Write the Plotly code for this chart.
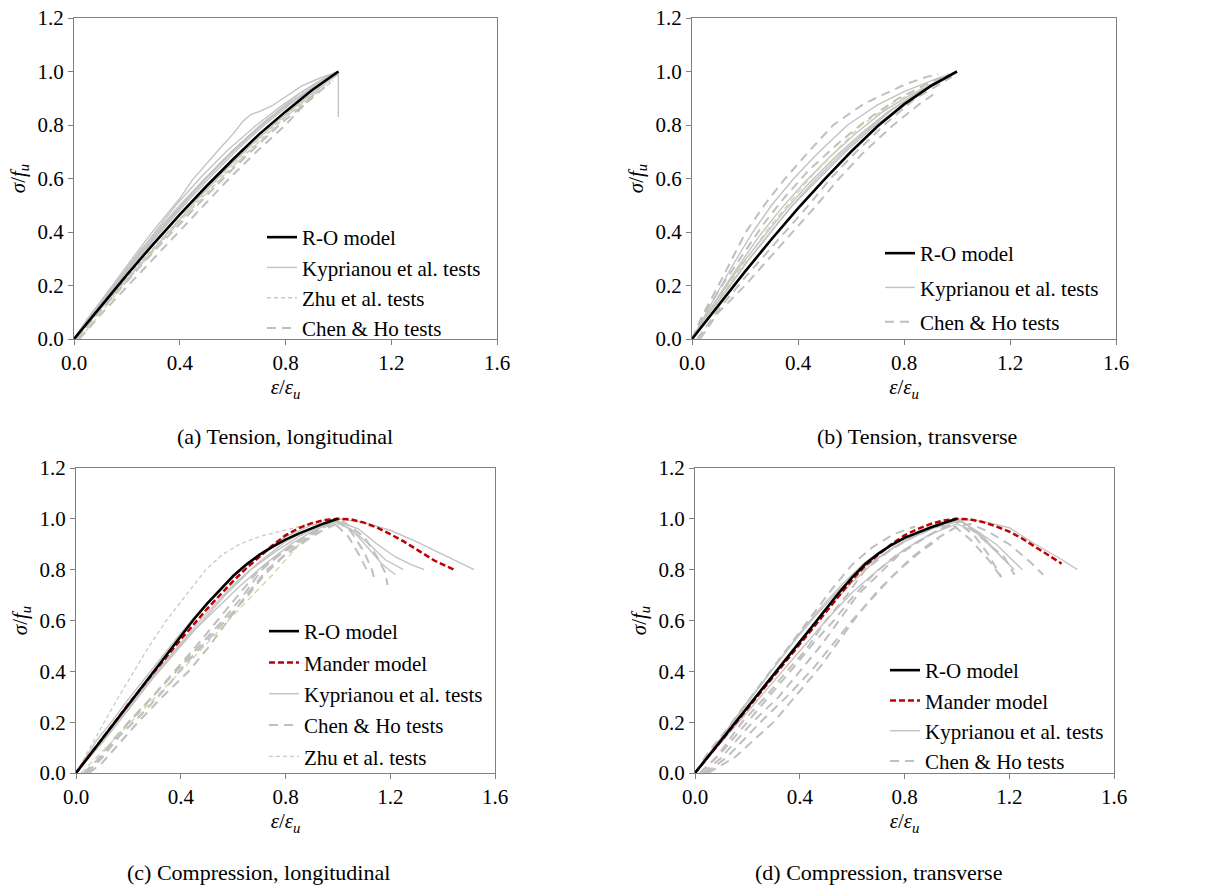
import plotly.graph_objects as go

# ---------------------------------------------------------------------------
# Normalised stress-strain curves: strain ratio (eps/eps_u) vs stress ratio (sigma/f_u)
# Each test curve is a pair (strain list, stress list).
# ---------------------------------------------------------------------------

# (a) Tension, longitudinal
ro_a_x = [0, 0.1, 0.2, 0.3, 0.4, 0.5, 0.6, 0.7, 0.8, 0.9, 1.0]
ro_a_y = [0, 0.12, 0.24, 0.355, 0.465, 0.57, 0.67, 0.765, 0.85, 0.93, 1.0]
kyp_a = [
    ([0, 0.05, 0.1, 0.144, 0.2, 0.25, 0.3, 0.36, 0.4, 0.448, 0.5, 0.55, 0.6, 0.64, 0.67, 0.7, 0.75, 0.81, 0.86, 0.917, 0.96, 1.0],
     [0, 0.075, 0.14, 0.2, 0.275, 0.34, 0.405, 0.475, 0.525, 0.595, 0.655, 0.71, 0.765, 0.815, 0.84, 0.85, 0.872, 0.912, 0.945, 0.97, 0.985, 1.0]),
    ([0, 0.05, 0.1, 0.15, 0.2, 0.25, 0.32, 0.4, 0.5, 0.6, 0.7, 0.78, 0.85, 0.92, 1.0, 1.0],
     [0, 0.07, 0.135, 0.2, 0.265, 0.33, 0.41, 0.5, 0.605, 0.705, 0.795, 0.86, 0.915, 0.96, 1.0, 0.83]),
    ([0, 0.06, 0.12, 0.18, 0.25, 0.34, 0.43, 0.52, 0.62, 0.72, 0.82, 0.9, 0.96, 1.0],
     [0, 0.08, 0.155, 0.23, 0.31, 0.415, 0.515, 0.61, 0.71, 0.8, 0.88, 0.935, 0.975, 1.0]),
    ([0, 0.05, 0.1, 0.17, 0.24, 0.31, 0.39, 0.48, 0.58, 0.69, 0.79, 0.87, 0.94, 1.0],
     [0, 0.065, 0.135, 0.22, 0.31, 0.405, 0.505, 0.605, 0.705, 0.8, 0.875, 0.93, 0.97, 1.0]),
    ([0, 0.08, 0.17, 0.27, 0.37, 0.47, 0.57, 0.67, 0.77, 0.87, 0.95, 1.0],
     [0, 0.09, 0.19, 0.3, 0.415, 0.525, 0.63, 0.725, 0.815, 0.895, 0.955, 0.99]),
    ([0, 0.1, 0.2, 0.3, 0.4, 0.5, 0.6, 0.7, 0.8, 0.9, 1.0],
     [0, 0.13, 0.255, 0.375, 0.49, 0.6, 0.7, 0.79, 0.87, 0.94, 0.995]),
    ([0, 0.07, 0.14, 0.22, 0.3, 0.38, 0.46, 0.55, 0.64, 0.73, 0.82, 0.9, 0.97],
     [0, 0.095, 0.18, 0.28, 0.38, 0.47, 0.56, 0.655, 0.74, 0.82, 0.885, 0.94, 0.98]),
]
zhu_a = [
    ([0, 0.1, 0.2, 0.3, 0.4, 0.5, 0.6, 0.7, 0.8, 0.9, 0.97],
     [0, 0.115, 0.23, 0.34, 0.45, 0.555, 0.655, 0.75, 0.835, 0.915, 0.97]),
    ([0.01, 0.1, 0.2, 0.3, 0.4, 0.5, 0.6, 0.7, 0.8, 0.9, 0.98],
     [0, 0.11, 0.22, 0.33, 0.44, 0.545, 0.645, 0.74, 0.83, 0.905, 0.965]),
]
chen_a = [
    ([0.02, 0.1, 0.2, 0.3, 0.395, 0.49, 0.587, 0.69, 0.8, 0.87, 0.93],
     [0, 0.09, 0.195, 0.3, 0.4, 0.5, 0.6, 0.7, 0.8, 0.875, 0.94]),
    ([0.01, 0.1, 0.2, 0.3, 0.4, 0.5, 0.6, 0.7, 0.8, 0.9, 0.97],
     [0, 0.105, 0.215, 0.325, 0.43, 0.535, 0.635, 0.73, 0.82, 0.9, 0.96]),
]
green_a = [([0.02, 0.2, 0.4, 0.6, 0.8, 0.95], [0, 0.215, 0.44, 0.645, 0.83, 0.95])]

# (b) Tension, transverse
ro_b_x = [0, 0.1, 0.2, 0.3, 0.4, 0.5, 0.6, 0.7, 0.8, 0.9, 1.0]
ro_b_y = [0, 0.127, 0.252, 0.373, 0.488, 0.597, 0.7, 0.795, 0.877, 0.945, 1.0]
kyp_b = [
    ([0, 0.05, 0.1, 0.15, 0.23, 0.3, 0.384, 0.47, 0.587, 0.7, 0.8, 0.875, 0.94, 0.98],
     [0, 0.09, 0.18, 0.27, 0.4, 0.5, 0.6, 0.69, 0.8, 0.875, 0.925, 0.955, 0.98, 0.99]),
    ([0, 0.05, 0.1, 0.16, 0.25, 0.33, 0.42, 0.52, 0.62, 0.72, 0.82, 0.9, 0.97],
     [0, 0.08, 0.16, 0.25, 0.38, 0.48, 0.58, 0.68, 0.77, 0.85, 0.91, 0.95, 0.985]),
    ([0, 0.06, 0.12, 0.2, 0.28, 0.37, 0.46, 0.56, 0.66, 0.76, 0.86, 0.94, 1.0],
     [0, 0.09, 0.17, 0.28, 0.38, 0.49, 0.59, 0.69, 0.78, 0.86, 0.925, 0.97, 1.0]),
    ([0, 0.05, 0.11, 0.18, 0.26, 0.35, 0.44, 0.54, 0.64, 0.74, 0.84, 0.92, 0.98],
     [0, 0.085, 0.17, 0.27, 0.37, 0.48, 0.58, 0.68, 0.77, 0.85, 0.915, 0.96, 0.99]),
    ([0, 0.06, 0.13, 0.21, 0.29, 0.38, 0.48, 0.58, 0.68, 0.78, 0.88, 0.96],
     [0, 0.09, 0.18, 0.29, 0.39, 0.5, 0.6, 0.7, 0.79, 0.86, 0.93, 0.975]),
]
chen_b = [
    ([0, 0.04, 0.1, 0.15, 0.203, 0.28, 0.352, 0.44, 0.533, 0.65, 0.8, 0.885, 0.93],
     [0, 0.09, 0.2, 0.3, 0.4, 0.51, 0.6, 0.7, 0.8, 0.88, 0.95, 0.98, 0.99]),
    ([0.02, 0.1, 0.2, 0.28, 0.352, 0.44, 0.523, 0.62, 0.725, 0.843, 0.93, 0.98],
     [0, 0.11, 0.23, 0.32, 0.4, 0.5, 0.6, 0.7, 0.8, 0.9, 0.95, 0.98]),
    ([0.03, 0.1, 0.2, 0.29, 0.379, 0.47, 0.555, 0.65, 0.76, 0.86, 0.92],
     [0, 0.1, 0.2, 0.3, 0.4, 0.5, 0.6, 0.7, 0.8, 0.88, 0.92]),
    ([0, 0.05, 0.12, 0.2, 0.27, 0.35, 0.44, 0.55, 0.66, 0.78, 0.9, 0.97],
     [0, 0.1, 0.21, 0.33, 0.43, 0.53, 0.63, 0.73, 0.82, 0.9, 0.96, 0.99]),
]
green_b = [([0, 0.1, 0.2, 0.277, 0.36, 0.443, 0.54, 0.64, 0.77, 0.896, 0.97],
            [0, 0.15, 0.29, 0.4, 0.5, 0.6, 0.7, 0.8, 0.89, 0.95, 0.98])]

# (c) Compression, longitudinal
ro_c_x = [0, 0.1, 0.2, 0.3, 0.4, 0.45, 0.5, 0.55, 0.6, 0.65, 0.7, 0.75, 0.8, 0.85, 0.9, 0.95, 1.0]
ro_c_y = [0, 0.135, 0.27, 0.405, 0.54, 0.605, 0.665, 0.722, 0.775, 0.82, 0.858, 0.89, 0.918, 0.942, 0.963, 0.983, 1.0]
mander_c_x = [0, 0.1, 0.2, 0.3, 0.4, 0.5, 0.6, 0.65, 0.7, 0.75, 0.8, 0.85, 0.9, 0.95, 1.0,
              1.05, 1.1, 1.15, 1.2, 1.25, 1.3, 1.37, 1.45]
mander_c_y = [0, 0.135, 0.27, 0.4, 0.525, 0.645, 0.755, 0.805, 0.85, 0.895, 0.935, 0.963, 0.983, 0.995, 1.0,
              0.998, 0.985, 0.965, 0.94, 0.912, 0.88, 0.835, 0.797]
kyp_c = [
    ([0, 0.1, 0.2, 0.3, 0.4, 0.5, 0.6, 0.7, 0.8, 0.9, 1.0, 1.1, 1.2, 1.3, 1.4, 1.52],
     [0, 0.13, 0.26, 0.39, 0.51, 0.63, 0.74, 0.83, 0.91, 0.965, 1.0, 0.985, 0.955, 0.91, 0.86, 0.80]),
    ([0, 0.1, 0.2, 0.31, 0.42, 0.52, 0.62, 0.72, 0.82, 0.92, 1.0, 1.08, 1.15, 1.22, 1.28, 1.33],
     [0, 0.12, 0.25, 0.4, 0.53, 0.63, 0.73, 0.82, 0.9, 0.96, 0.99, 0.96, 0.9, 0.85, 0.82, 0.8]),
    ([0, 0.08, 0.135, 0.2, 0.3, 0.4, 0.5, 0.6, 0.7, 0.8, 0.9, 0.98, 1.05, 1.12, 1.18, 1.25],
     [0, 0.13, 0.2, 0.29, 0.42, 0.55, 0.67, 0.77, 0.86, 0.93, 0.975, 0.99, 0.96, 0.9, 0.84, 0.8]),
    ([0, 0.1, 0.2, 0.3, 0.4, 0.485, 0.57, 0.668, 0.76, 0.85, 0.93, 1.0, 1.06, 1.12, 1.17, 1.22],
     [0, 0.12, 0.25, 0.38, 0.5, 0.6, 0.7, 0.8, 0.87, 0.93, 0.97, 0.99, 0.95, 0.88, 0.82, 0.78]),
]
chen_c = [
    ([0.04, 0.08, 0.14, 0.2, 0.3, 0.377, 0.46, 0.54, 0.62, 0.7, 0.78, 0.84, 0.9, 0.98, 1.04, 1.08, 1.11],
     [0, 0.04, 0.12, 0.2, 0.31, 0.4, 0.5, 0.6, 0.7, 0.8, 0.86, 0.9, 0.94, 0.99, 0.93, 0.86, 0.8]),
    ([0.05, 0.1, 0.16, 0.237, 0.33, 0.43, 0.51, 0.58, 0.65, 0.73, 0.8, 0.87, 0.95, 1.02, 1.1, 1.15, 1.18, 1.19],
     [0, 0.04, 0.11, 0.2, 0.3, 0.4, 0.5, 0.6, 0.7, 0.8, 0.86, 0.91, 0.96, 0.99, 0.93, 0.85, 0.79, 0.74]),
    ([0.03, 0.08, 0.15, 0.22, 0.31, 0.4, 0.49, 0.56, 0.64, 0.71, 0.79, 0.86, 0.93, 1.0, 1.05, 1.1, 1.13, 1.14],
     [0, 0.05, 0.14, 0.22, 0.32, 0.42, 0.52, 0.6, 0.7, 0.8, 0.87, 0.92, 0.96, 0.99, 0.95, 0.87, 0.8, 0.76]),
    ([0.04, 0.1, 0.17, 0.25, 0.34, 0.41, 0.5, 0.57, 0.65, 0.72, 0.8, 0.86, 0.92],
     [0, 0.06, 0.15, 0.23, 0.33, 0.42, 0.52, 0.6, 0.69, 0.78, 0.86, 0.9, 0.95]),
]
zhu_c = [
    ([0, 0.05, 0.108, 0.16, 0.22, 0.28, 0.345, 0.42, 0.496, 0.56, 0.625, 0.7, 0.776, 0.85, 0.93, 1.0],
     [0, 0.095, 0.2, 0.295, 0.4, 0.5, 0.6, 0.7, 0.8, 0.86, 0.9, 0.93, 0.95, 0.97, 0.99, 1.0]),
]
green_c = [([0.02, 0.2, 0.4, 0.6, 0.75, 0.87], [0, 0.19, 0.4, 0.62, 0.78, 0.92])]

# (d) Compression, transverse
ro_d_x = [0, 0.1, 0.2, 0.3, 0.4, 0.45, 0.5, 0.55, 0.6, 0.65, 0.7, 0.75, 0.8, 0.85, 0.9, 0.95, 1.0]
ro_d_y = [0, 0.128, 0.256, 0.385, 0.515, 0.58, 0.645, 0.71, 0.77, 0.822, 0.863, 0.897, 0.925, 0.947, 0.966, 0.984, 1.0]
mander_d_x = [0, 0.1, 0.2, 0.3, 0.4, 0.5, 0.6, 0.65, 0.7, 0.75, 0.8, 0.85, 0.9, 0.95, 1.0,
              1.05, 1.1, 1.15, 1.2, 1.25, 1.3, 1.35, 1.4]
mander_d_y = [0, 0.127, 0.254, 0.38, 0.51, 0.635, 0.76, 0.815, 0.86, 0.9, 0.935, 0.96, 0.98, 0.994, 1.0,
              0.998, 0.987, 0.97, 0.95, 0.922, 0.89, 0.858, 0.824]
kyp_d = [
    ([0, 0.1, 0.2, 0.3, 0.4, 0.5, 0.6, 0.7, 0.8, 0.9, 1.0, 1.1, 1.2, 1.3, 1.4, 1.46],
     [0, 0.13, 0.26, 0.39, 0.52, 0.64, 0.75, 0.845, 0.915, 0.965, 1.0, 0.99, 0.965, 0.9, 0.84, 0.80]),
    ([0, 0.08, 0.16, 0.24, 0.32, 0.4, 0.48, 0.56, 0.65, 0.75, 0.85, 0.95, 1.0, 1.08, 1.15, 1.2, 1.25],
     [0, 0.11, 0.22, 0.33, 0.44, 0.55, 0.65, 0.74, 0.83, 0.9, 0.95, 0.99, 1.0, 0.95, 0.9, 0.85, 0.8]),
    ([0, 0.1, 0.2, 0.29, 0.38, 0.47, 0.56, 0.66, 0.76, 0.86, 0.95, 1.02, 1.1, 1.17, 1.22],
     [0, 0.14, 0.28, 0.4, 0.52, 0.63, 0.73, 0.82, 0.89, 0.94, 0.98, 0.99, 0.93, 0.85, 0.8]),
    ([0, 0.1, 0.2, 0.3, 0.4, 0.5, 0.6, 0.7, 0.8, 0.9, 1.0, 1.07, 1.14, 1.2],
     [0, 0.12, 0.24, 0.36, 0.48, 0.6, 0.71, 0.8, 0.88, 0.94, 0.98, 0.95, 0.88, 0.82]),
]
chen_d = [
    ([0.02, 0.08, 0.18, 0.27, 0.35, 0.42, 0.5, 0.58, 0.65, 0.75, 0.85, 0.93, 1.0, 1.07, 1.12, 1.16, 1.17],
     [0, 0.06, 0.2, 0.3, 0.4, 0.48, 0.6, 0.7, 0.8, 0.88, 0.94, 0.97, 0.99, 0.93, 0.86, 0.79, 0.77]),
    ([0.03, 0.1, 0.22, 0.32, 0.4, 0.48, 0.55, 0.62, 0.7, 0.78, 0.87, 0.95, 1.02, 1.1, 1.18, 1.22],
     [0, 0.06, 0.2, 0.3, 0.4, 0.5, 0.6, 0.7, 0.78, 0.86, 0.92, 0.97, 0.99, 0.92, 0.85, 0.78]),
    ([0.04, 0.12, 0.25, 0.36, 0.45, 0.53, 0.6, 0.67, 0.75, 0.83, 0.92, 1.0, 1.05, 1.12, 1.2, 1.28, 1.33],
     [0, 0.06, 0.2, 0.31, 0.41, 0.51, 0.6, 0.68, 0.77, 0.85, 0.92, 0.97, 0.98, 0.95, 0.9, 0.83, 0.78]),
    ([0.05, 0.15, 0.3, 0.4, 0.48, 0.55, 0.62, 0.7, 0.78, 0.86, 0.93],
     [0, 0.06, 0.2, 0.32, 0.42, 0.52, 0.62, 0.72, 0.8, 0.87, 0.92]),
    ([0, 0.05, 0.12, 0.2, 0.28, 0.36, 0.44, 0.52, 0.6, 0.68, 0.76, 0.84],
     [0, 0.08, 0.17, 0.28, 0.39, 0.5, 0.61, 0.72, 0.82, 0.89, 0.94, 0.97]),
    ([0.02, 0.1, 0.2, 0.3, 0.38, 0.46, 0.53, 0.6, 0.68, 0.76, 0.85, 0.92, 0.98, 1.05, 1.12, 1.17],
     [0, 0.08, 0.2, 0.32, 0.42, 0.52, 0.6, 0.69, 0.78, 0.85, 0.91, 0.95, 0.98, 0.92, 0.84, 0.77]),
]

captions = ["(a) Tension, longitudinal", "(b) Tension, transverse",
            "(c) Compression, longitudinal", "(d) Compression, transverse"]
x_ticks = [0, 0.4, 0.8, 1.2, 1.6]
y_ticks = [0, 0.2, 0.4, 0.6, 0.8, 1.0, 1.2]

# ---------------------------------------------------------------------------
FONT = "Liberation Serif"
W, H = 1230, 885

STYLES = {
    "kyp":    dict(name="Kyprianou et al. tests", color="#c3c3c3", width=1.4, dash="solid", rank=3),
    "zhu":    dict(name="Zhu et al. tests", color="#c8c8c8", width=1.3, dash="4px,3px", rank=4),
    "chen":   dict(name="Chen & Ho tests", color="#bfbfbf", width=2.0, dash="9px,6px", rank=5),
    "green":  dict(name="", color="#c4d79b", width=1.2, dash="6px,4px", rank=9),
    "mander": dict(name="Mander model", color="#c00000", width=2.5, dash="6px,3px", rank=2),
    "ro":     dict(name="R-O model", color="#000000", width=2.6, dash="solid", rank=1),
}

fig = go.Figure()


def add_group(panel, key, curves, legend_name, rank=None):
    st = STYLES[key]
    for i, (xs, ys) in enumerate(curves):
        fig.add_trace(go.Scatter(
            x=xs, y=ys, mode="lines",
            line=dict(color=st["color"], width=st["width"], dash=st["dash"]),
            name=st["name"],
            legendgroup=f"{panel}-{key}",
            legend=legend_name,
            legendrank=rank if rank is not None else st["rank"],
            showlegend=(i == 0 and key != "green"),
            xaxis=f"x{panel}" if panel > 1 else "x",
            yaxis=f"y{panel}" if panel > 1 else "y",
            hoverinfo="skip",
        ))


# panel a
add_group(1, "kyp", kyp_a, "legend")
add_group(1, "zhu", zhu_a, "legend")
add_group(1, "chen", chen_a, "legend")
add_group(1, "green", green_a, "legend")
add_group(1, "ro", [(ro_a_x, ro_a_y)], "legend")

# panel b
add_group(2, "kyp", kyp_b, "legend2")
add_group(2, "chen", chen_b, "legend2")
add_group(2, "green", green_b, "legend2")
add_group(2, "ro", [(ro_b_x, ro_b_y)], "legend2")

# panel c  (legend order: R-O, Mander, Kyprianou, Chen & Ho, Zhu)
add_group(3, "kyp", kyp_c, "legend3")
add_group(3, "chen", chen_c, "legend3", rank=4)
add_group(3, "zhu", zhu_c, "legend3", rank=5)
add_group(3, "green", green_c, "legend3")
add_group(3, "mander", [(mander_c_x, mander_c_y)], "legend3")
add_group(3, "ro", [(ro_c_x, ro_c_y)], "legend3")

# panel d
add_group(4, "kyp", kyp_d, "legend4")
add_group(4, "chen", chen_d, "legend4")
add_group(4, "mander", [(mander_d_x, mander_d_y)], "legend4")
add_group(4, "ro", [(ro_d_x, ro_d_y)], "legend4")

# plot-area boxes in pixels: (left, right, top, bottom)
boxes = [(74, 497, 18, 339), (692, 1116, 18, 339),
         (76, 495, 468, 773), (695, 1114, 468, 773)]

axis_common = dict(
    showline=True, mirror=True, linecolor="#808080", linewidth=1,
    ticks="outside", ticklen=5, tickwidth=1, tickcolor="#808080",
    showgrid=False, zeroline=False, automargin=False,
    tickfont=dict(family=FONT, size=21, color="#000000"),
    fixedrange=True,
)

layout = dict(
    template="none",
    width=W, height=H, margin=dict(l=0, r=0, t=0, b=0, autoexpand=False),
    paper_bgcolor="#ffffff", plot_bgcolor="#ffffff",
    font=dict(family=FONT, size=21, color="#000000"),
    annotations=[],
)

for k, (l, r, t, b) in enumerate(boxes, start=1):
    sx = "" if k == 1 else str(k)
    layout[f"xaxis{sx}"] = dict(
        axis_common, domain=[l / W, r / W], range=[0, 1.6],
        tickvals=x_ticks, tickformat=".1f",
        anchor=f"y{sx}",
        title=dict(text="<i>ε</i>/<i>ε</i><sub><i>u</i></sub>",
                   font=dict(family=FONT, size=21, color="#000000"), standoff=0),
    )
    layout[f"yaxis{sx}"] = dict(
        axis_common, domain=[1 - b / H, 1 - t / H], range=[0, 1.2],
        tickvals=y_ticks, tickformat=".1f",
        anchor=f"x{sx}",
        title=dict(text="<i>σ</i>/<i>f</i><sub><i>u</i></sub>",
                   font=dict(family=FONT, size=21, color="#000000"), standoff=6),
    )

# legends: (left px, top px, gap between groups)
legend_pos = [(262, 217, 0), (880, 233, 4), (264, 611, 1), (885, 650, 0)]
for k, (lx, ty, gap) in enumerate(legend_pos, start=1):
    key = "legend" if k == 1 else f"legend{k}"
    layout[key] = dict(
        x=lx / W, y=1 - ty / H, xanchor="left", yanchor="top",
        bgcolor="rgba(0,0,0,0)", borderwidth=0,
        font=dict(family=FONT, size=21, color="#000000"),
        tracegroupgap=gap, itemwidth=30,
    )

# sub-figure captions
cap_pos = [(285, 436), (917, 436), (258, 872), (878, 872)]
for text, (cx, cy) in zip(captions, cap_pos):
    layout["annotations"].append(dict(
        text=text, x=cx / W, y=1 - cy / H, xref="paper", yref="paper",
        xanchor="center", yanchor="middle", showarrow=False,
        font=dict(family=FONT, size=22, color="#000000"),
    ))

fig.update_layout(**layout)
fig.write_html("out.html")
